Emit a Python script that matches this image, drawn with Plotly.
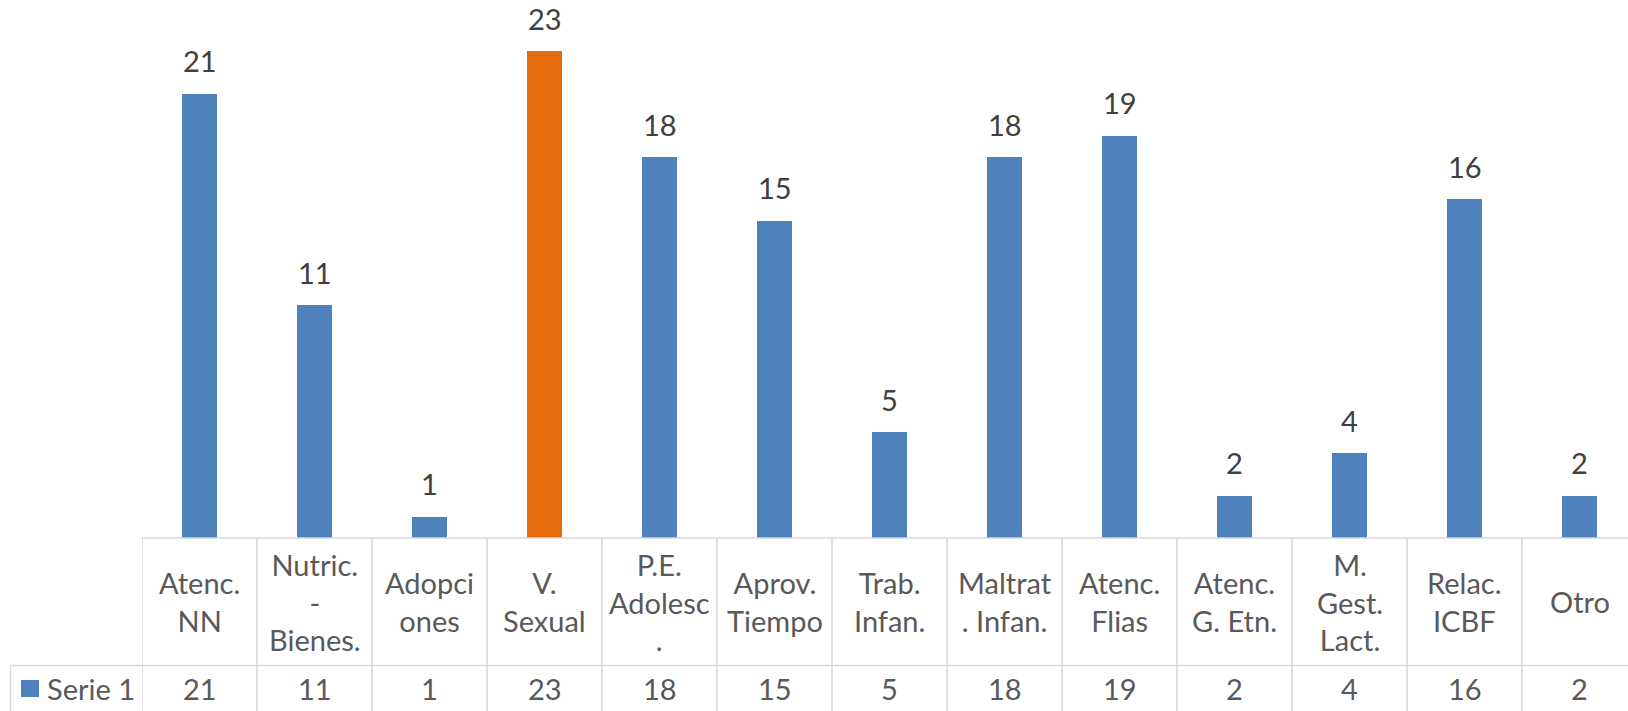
import plotly.graph_objects as go

# ---- data ----
categories = ["Atenc. NN", "Nutric. - Bienes.", "Adopciones", "V. Sexual", "P.E. Adolesc.",
              "Aprov. Tiempo", "Trab. Infan.", "Maltrat. Infan.", "Atenc. Flias",
              "Atenc. G. Etn.", "M. Gest. Lact.", "Relac. ICBF", "Otro"]
table_labels = ["Atenc.<br>NN", "Nutric.<br>-<br>Bienes.", "Adopci<br>ones", "V.<br>Sexual",
                "P.E.<br>Adolesc<br>.", "Aprov.<br>Tiempo", "Trab.<br>Infan.", "Maltrat<br>. Infan.",
                "Atenc.<br>Flias", "Atenc.<br>G. Etn.", "M.<br>Gest.<br>Lact.", "Relac.<br>ICBF", "Otro"]
values = [21, 11, 1, 23, 18, 15, 5, 18, 19, 2, 4, 16, 2]
series_name = "Serie 1"
highlight = "V. Sexual"

# ---- style ----
BLUE = "#4F81BD"
ORANGE = "#E46C0A"
LABEL_COLOR = "#404040"
TABLE_TEXT = "#595959"
GRID = "#D9D9D9"
FONT = "Lato"
W, H = 1628, 711
ML, MR, MT, MB = 142, 0, 9, 173
plot_h = H - MT - MB
plot_w = W - ML - MR


def py2paper(py):
    return (H - MB - py) / plot_h


def px2paper(px):
    return (px - ML) / plot_w


colors = [ORANGE if c == highlight else BLUE for c in categories]

fig = go.Figure()
fig.add_trace(go.Bar(
    x=categories, y=values, marker=dict(color=colors, line=dict(width=0)),
    width=0.305, name=series_name, showlegend=False, hoverinfo="x+y",
))

n = len(categories)
annotations = []
# value labels above bars
for c, v in zip(categories, values):
    annotations.append(dict(x=c, y=v, xref="x", yref="y", text=str(v), showarrow=False,
                            yanchor="middle", yshift=33,
                            font=dict(family=FONT, size=29, color=LABEL_COLOR)))
# table header row (categories)
hdr_y = py2paper(601.5)
row_y = py2paper(688.5)
for c, lab, v in zip(categories, table_labels, values):
    annotations.append(dict(x=c, y=hdr_y, xref="x", yref="paper", text=lab, showarrow=False,
                            yanchor="middle", align="center",
                            font=dict(family=FONT, size=29, color=TABLE_TEXT)))
    annotations.append(dict(x=c, y=row_y, xref="x", yref="paper", text=str(v), showarrow=False,
                            yanchor="middle",
                            font=dict(family=FONT, size=29, color=TABLE_TEXT)))
# series name in legend cell
annotations.append(dict(x=px2paper(45), y=row_y, xref="paper", yref="paper", text=series_name,
                        showarrow=False, xanchor="left", yanchor="middle",
                        font=dict(family=FONT, size=29, color=TABLE_TEXT)))

shapes = []
top_y = py2paper(538)
sep_y = py2paper(665.5)
bot_y = py2paper(730)
line = dict(color=GRID, width=1.6)
# horizontal lines
shapes.append(dict(type="line", xref="paper", yref="paper", x0=0, x1=1.02, y0=top_y, y1=top_y, line=line))
shapes.append(dict(type="line", xref="paper", yref="paper", x0=px2paper(10), x1=1.02, y0=sep_y, y1=sep_y, line=line))
# vertical lines at category boundaries
for i in range(n + 1):
    shapes.append(dict(type="line", xref="x", yref="paper", x0=i - 0.5, x1=i - 0.5,
                       y0=top_y, y1=bot_y, line=line))
# left border of legend cell
shapes.append(dict(type="line", xref="paper", yref="paper", x0=px2paper(10.5), x1=px2paper(10.5),
                   y0=sep_y, y1=bot_y, line=line))
# legend swatch
shapes.append(dict(type="rect", xref="paper", yref="paper", x0=px2paper(21), x1=px2paper(39),
                   y0=py2paper(697), y1=py2paper(680), fillcolor=BLUE, line=dict(width=0)))

fig.update_layout(
    width=W, height=H,
    margin=dict(l=ML, r=MR, t=MT, b=MB, pad=0),
    paper_bgcolor="white", plot_bgcolor="white",
    xaxis=dict(type="category", categoryorder="array", categoryarray=categories,
               range=[-0.5, n - 0.5 - 9 / 115], showticklabels=False, showgrid=False,
               zeroline=False, showline=False, ticks=""),
    yaxis=dict(range=[0, 25], visible=False, showgrid=False, zeroline=False),
    annotations=annotations, shapes=shapes,
    bargap=0.0,
    font=dict(family=FONT),
)

fig.write_html("out.html", config={"displayModeBar": False},
               post_script="document.body.style.margin='0';document.body.style.overflow='hidden';")
